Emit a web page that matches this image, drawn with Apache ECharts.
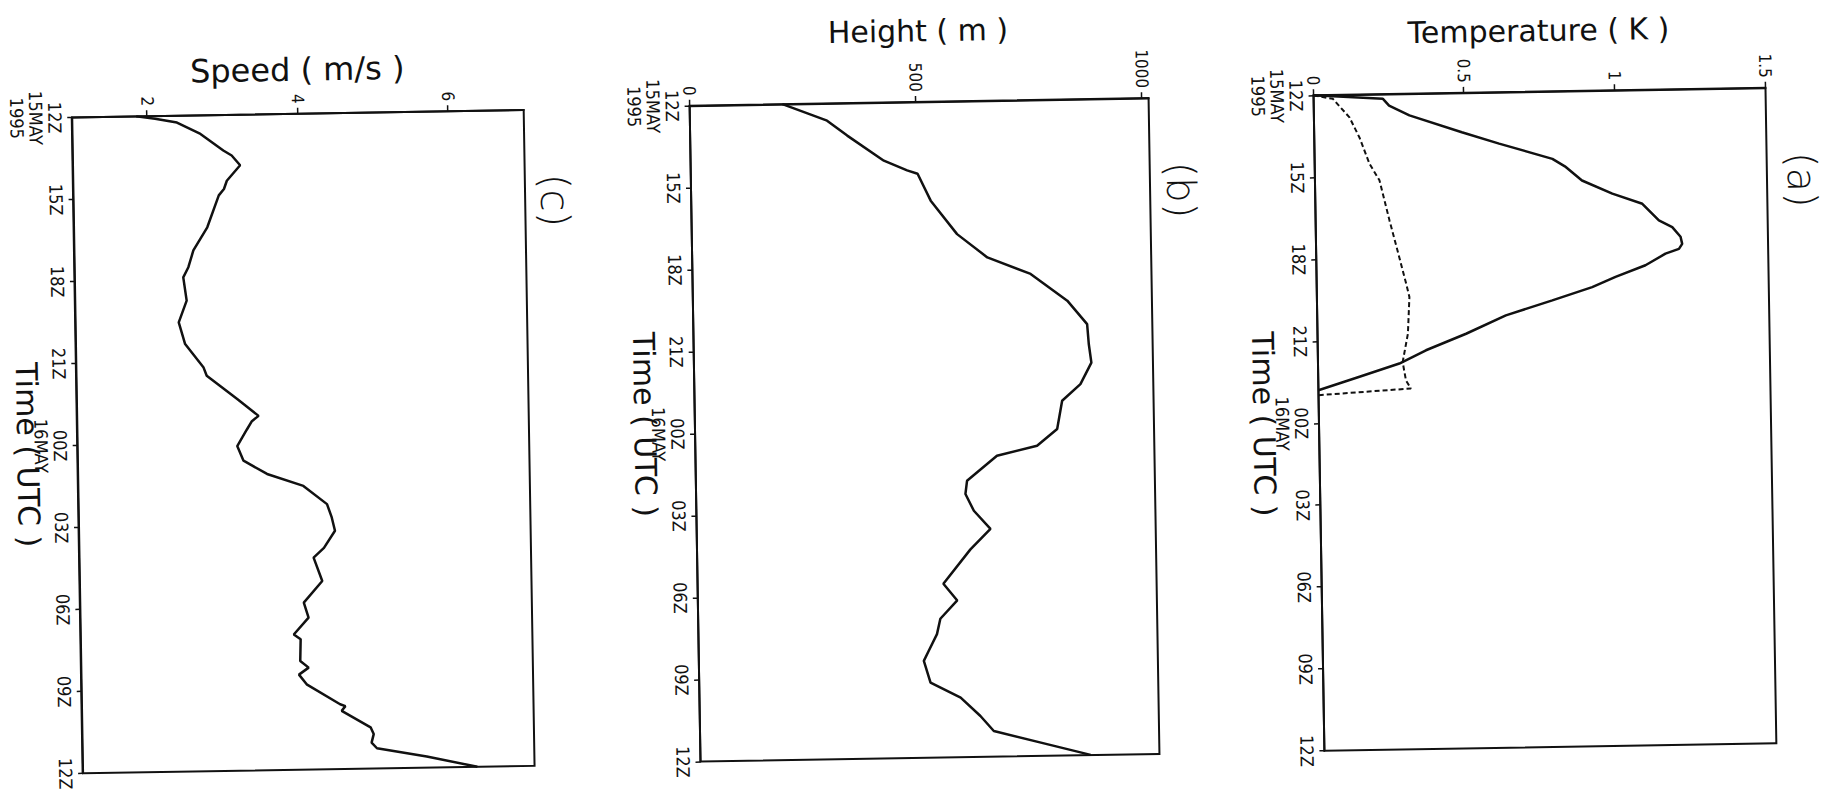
<!DOCTYPE html>
<html>
<head>
<meta charset="utf-8">
<script src="https://cdn.jsdelivr.net/npm/echarts@6/dist/echarts.min.js"></script>
<style>
  html, body { margin: 0; padding: 0; background: #fff; overflow: hidden; }
  body { width: 1829px; height: 794px; position: relative; }
  /* the figure is drawn upright, then turned a quarter turn (plus the scan's ~1° tilt) */
  #chart {
    position: absolute;
    width: 794px; height: 1829px;
    left: 517.5px; top: -517.5px;
    transform: rotate(89.05deg);
  }
</style>
</head>
<body>
<div id="chart"></div>
<script>
// hours after 12Z 15 May 1995
const TIME_TICKS = [0, 3, 6, 9, 12, 15, 18, 21, 24]
const TIME_LABELS = ['12Z\n15MAY\n1995', '15Z', '18Z', '21Z', '00Z\n16MAY', '03Z', '06Z', '09Z', '12Z']

// (a) temperature, K
const TEMP_TICKS = [0, 0.5, 1, 1.5]
const TEMP_SOLID = [
  [0, 0], [0.17, 0.23], [0.42, 0.25], [0.79, 0.317], [1.44, 0.49], [1.88, 0.613],
  [2.47, 0.789], [2.75, 0.83], [3.28, 0.886], [3.78, 0.986], [4.17, 1.085], [4.79, 1.139],
  [5.04, 1.183], [5.4, 1.21], [5.66, 1.215], [5.84, 1.204], [6.01, 1.159], [6.42, 1.092],
  [6.83, 0.992], [7.19, 0.914], [7.65, 0.781], [8.17, 0.626], [8.82, 0.493],
  [9.40, 0.359], [9.87, 0.27], [10.33, 0.137], [10.8, 0]
]
const TEMP_DASHED = [
  [0, 0], [0.14, 0.064], [0.83, 0.118], [1.57, 0.15], [2.54, 0.182], [3.15, 0.214],
  [4.62, 0.245], [5.73, 0.27], [6.95, 0.297], [7.44, 0.307], [8.78, 0.30],
  [9.82, 0.281], [10.49, 0.291], [10.79, 0.307], [10.98, 0]
]

// (b) height, m
const HEIGHT_TICKS = [0, 500, 1000]
const HEIGHT = [
  [0, 205], [0.63, 303], [1.19, 347], [2.13, 427], [2.5, 478], [2.63, 501], [3.62, 529],
  [4.86, 586], [5.73, 652], [6.36, 747], [7.36, 827], [8.23, 870], [8.97, 873],
  [9.64, 878], [10.42, 853], [11.02, 812], [12.05, 800], [12.65, 755], [12.99, 666],
  [13.89, 599], [14.37, 595], [14.99, 613], [15.66, 649], [16.4, 604], [17.64, 543],
  [18.26, 573], [18.92, 535], [19.48, 527], [20.09, 508], [20.45, 497], [21.25, 511],
  [21.82, 577], [22.5, 620], [23.06, 649], [23.57, 766], [23.99, 862]
]

// (c) speed, m/s
const SPEED_TICKS = [2, 4, 6]
const SPEED = [
  [0, 1.85], [0.1, 2.1], [0.25, 2.39], [0.68, 2.70], [1.30, 3.0], [1.49, 3.11], [1.85, 3.22],
  [2.41, 3.04], [2.71, 3.0], [2.94, 2.93], [4.10, 2.77], [4.94, 2.58], [5.55, 2.51],
  [5.92, 2.44], [6.77, 2.48], [7.56, 2.37], [8.36, 2.45], [9.23, 2.69], [9.53, 2.73],
  [10.40, 3.13], [11.03, 3.41], [11.22, 3.32], [11.53, 3.25], [12.12, 3.12], [12.66, 3.20],
  [13.16, 3.51], [13.62, 3.99], [14.3, 4.30], [14.79, 4.36], [15.28, 4.40], [15.9, 4.25],
  [16.25, 4.11], [17.11, 4.22], [17.89, 3.97], [18.44, 4.03], [19.05, 3.83], [19.23, 3.92],
  [20.02, 3.91], [20.27, 4.02], [20.52, 3.89], [20.88, 3.99], [21.63, 4.43], [21.70, 4.50],
  [21.87, 4.45], [22.49, 4.83], [22.74, 4.87], [23.05, 4.84], [23.26, 4.91], [23.59, 5.57],
  [24.0, 6.24]
]

const INK = '#111'
const TICK_FONT = '"Liberation Sans Narrow", "DejaVu Sans Condensed", "Liberation Sans", sans-serif'
const NAME_FONT = '"DejaVu Sans", sans-serif'

// one panel = grid + its two axes; boxes
const PANELS = [
  { grid: { left: 101.5, top: 59, width: 655.5, height: 452 }, name: 'Temperature ( K )', nameSize: 30, min: 0, max: 1.5, ticks: TEMP_TICKS, nameGap: 46, timeGap: 40, timePad: [0, 0, 0, 0], tag: '(a)', tagY: 24 },
  { grid: { left: 101.5, top: 676, width: 656, height: 459 }, name: 'Height ( m )', nameSize: 30, min: 0, max: 1014, ticks: HEIGHT_TICKS, nameGap: 56, timeGap: 35, timePad: [0, 20, 0, 0], tag: '(b)', tagY: 645 },
  { grid: { left: 103, top: 1301, width: 656, height: 451.5 }, name: 'Speed ( m/s )', nameSize: 32, min: 1, max: 7, ticks: SPEED_TICKS, nameGap: 28, timeGap: 35, timePad: [0, 0, 0, 17], tag: '(c)', tagY: 1271 },
]

const chart = echarts.init(document.getElementById('chart'), null, { renderer: 'svg' })

const option = {
  animation: false,
  backgroundColor: '#fff',
  grid: PANELS.map((p) => ({
    ...p.grid, show: true, borderColor: INK, borderWidth: 2, backgroundColor: 'transparent',
    containLabel: false, outerBoundsMode: 'none',
  })),
  xAxis: PANELS.map((p, i) => ({
    type: 'value', gridIndex: i, min: 0, max: 24, interval: 3,
    name: 'Time ( UTC )', nameLocation: 'middle', nameGap: p.timeGap, nameMoveOverlap: false,
    nameTextStyle: { fontFamily: NAME_FONT, fontSize: 30, color: INK, padding: p.timePad },
    axisLine: { lineStyle: { color: INK, width: 2 } },
    axisTick: { show: true, length: 5, lineStyle: { color: INK, width: 1.5 } },
    splitLine: { show: false },
    axisLabel: {
      margin: 8, color: INK, fontFamily: TICK_FONT, fontSize: 18, lineHeight: 19,
      formatter: (v) => TIME_LABELS[TIME_TICKS.indexOf(v)] || '',
    },
  })),
  yAxis: PANELS.map((p, i) => ({
    type: 'value', gridIndex: i, min: p.min, max: p.max,
    name: p.name, nameLocation: 'middle', nameGap: p.nameGap, nameMoveOverlap: false,
    nameTextStyle: { fontFamily: NAME_FONT, fontSize: p.nameSize, color: INK },
    axisLine: { show: true, lineStyle: { color: INK, width: 2 } },
    axisTick: { show: true, length: 6, customValues: p.ticks, lineStyle: { color: INK, width: 1.5 } },
    splitLine: { show: false },
    axisLabel: {
      margin: 10, color: INK, fontFamily: TICK_FONT, fontSize: 17, customValues: p.ticks,
      formatter: (v) => String(v),
    },
  })),
  graphic: PANELS.map((p) => ({
    type: 'text', x: 194, y: p.tagY,
    style: { text: p.tag, align: 'center', verticalAlign: 'middle', fill: INK, font: '300 40px "DejaVu Sans", sans-serif' },
  })),
  series: [
    { type: 'line', xAxisIndex: 0, yAxisIndex: 0, data: TEMP_SOLID, showSymbol: false, lineStyle: { color: INK, width: 2.5 } },
    { type: 'line', xAxisIndex: 0, yAxisIndex: 0, data: TEMP_DASHED, showSymbol: false, lineStyle: { color: INK, width: 2, type: [5, 3] } },
    { type: 'line', xAxisIndex: 1, yAxisIndex: 1, data: HEIGHT, showSymbol: false, lineStyle: { color: INK, width: 2.5 } },
    { type: 'line', xAxisIndex: 2, yAxisIndex: 2, data: SPEED, showSymbol: false, lineStyle: { color: INK, width: 2.5 } },
  ],
}

chart.setOption(option)
</script>
</body>
</html>
